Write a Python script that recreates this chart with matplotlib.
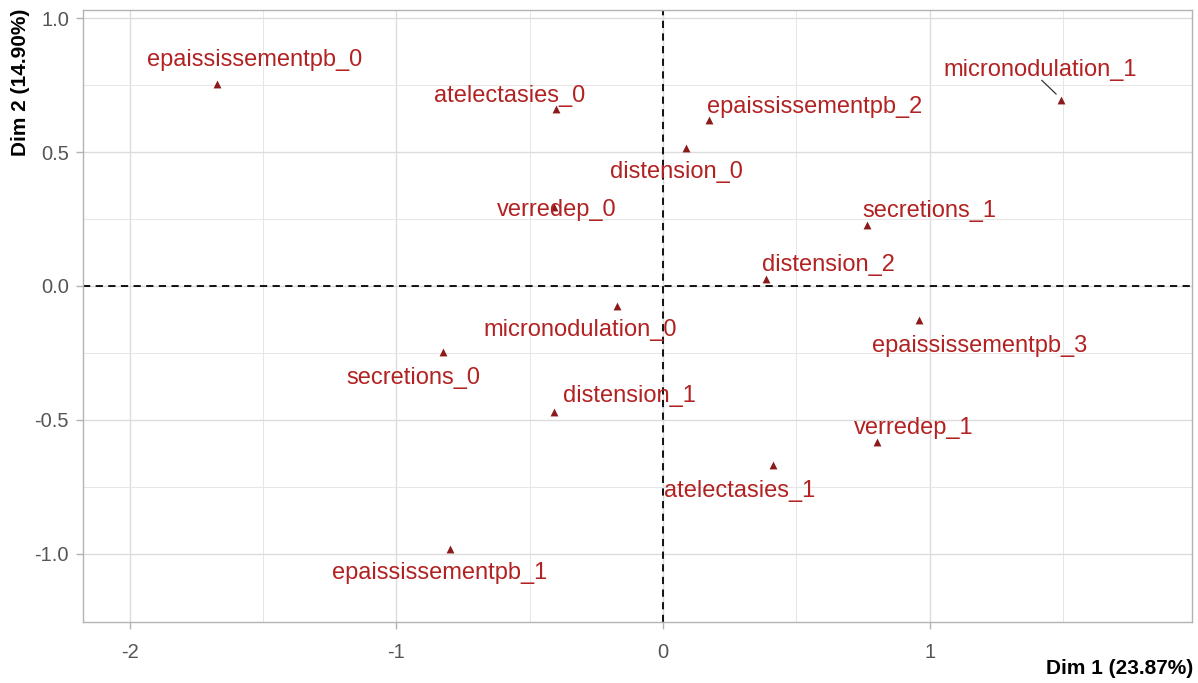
import matplotlib.pyplot as plt

plt.rcParams['font.family'] = ['Liberation Sans', 'DejaVu Sans']
plt.rcParams['axes.unicode_minus'] = False

labels = ["epaississementpb_0", "atelectasies_0", "epaississementpb_2", "micronodulation_1",
          "distension_0", "verredep_0", "secretions_1", "distension_2", "micronodulation_0",
          "epaississementpb_3", "secretions_0", "distension_1", "verredep_1", "atelectasies_1",
          "epaississementpb_1"]
dim1 = [-1.672, -0.401, 0.172, 1.492, 0.086, -0.409, 0.765, 0.386, -0.172,
        0.960, -0.825, -0.409, 0.802, 0.412, -0.799]
dim2 = [0.754, 0.660, 0.619, 0.694, 0.515, 0.295, 0.228, 0.026, -0.075,
        -0.127, -0.246, -0.470, -0.582, -0.668, -0.981]
# repelled label positions (data coords)
lab_x = [-1.530, -0.574, 0.570, 1.414, 0.052, -0.397, 0.998, 0.622, -0.311,
         1.189, -0.937, -0.127, 0.940, 0.289, -0.837]
lab_y = [0.843, 0.709, 0.668, 0.806, 0.425, 0.284, 0.280, 0.078, -0.164,
         -0.224, -0.343, -0.410, -0.530, -0.765, -1.072]

fig = plt.figure(figsize=(11.98, 6.83), dpi=100)
ax = fig.add_axes([83 / 1198, 1 - 622 / 683, (1192 - 83) / 1198, (622 - 10) / 683])

ax.scatter(dim1, dim2, marker='^', s=32, color='#8b1a1a', zorder=3, linewidths=0)
for i, name in enumerate(labels):
    ax.text(lab_x[i], lab_y[i], name, color='#b22222', fontsize=17,
            ha='center', va='center', zorder=4)

# segment from label to point (micronodulation_1)
i = labels.index("micronodulation_1")
ax.annotate("", xy=(dim1[i] - 0.01, dim2[i] + 0.015), xytext=(1.413, 0.775),
            arrowprops=dict(arrowstyle='-', color='#333333', lw=0.9), zorder=2)

ax.axhline(0, color='black', ls=(0, (4, 3)), lw=1.3, zorder=2)
ax.axvline(0, color='black', ls=(0, (4, 3)), lw=1.3, zorder=2)

ax.set_xlim(-2.175, 1.984)
ax.set_ylim(-1.254, 1.030)
ax.set_xticks([-2, -1, 0, 1])
ax.set_yticks([-1.0, -0.5, 0.0, 0.5, 1.0])
ax.set_yticklabels(['-1.0', '-0.5', '0.0', '0.5', '1.0'])
ax.set_xticks([-1.5, -0.5, 0.5, 1.5], minor=True)
ax.set_yticks([-0.75, -0.25, 0.25, 0.75], minor=True)
ax.grid(True, which='major', color='#dcdcdc', lw=1.0)
ax.grid(True, which='minor', color='#e6e6e6', lw=0.7)
ax.set_axisbelow(True)
ax.tick_params(which='major', colors='#b3b3b3', labelcolor='#555555', labelsize=14.5,
               length=5, width=1)
ax.tick_params(axis='x', pad=10)
ax.tick_params(axis='y', pad=5)
ax.tick_params(which='minor', length=0)
for s in ax.spines.values():
    s.set_color('#b3b3b3')
    s.set_linewidth(1.0)

fig.text(1193 / 1198, 1 - 678 / 683, "Dim 1 (23.87%)", ha='right', va='bottom',
         fontsize=15, fontweight='bold')
fig.text(11 / 1198, 1 - 9 / 683, "Dim 2 (14.90%)", ha='left', va='top', rotation=90,
         fontsize=15, fontweight='bold')

fig.savefig('out.png', dpi=100)
